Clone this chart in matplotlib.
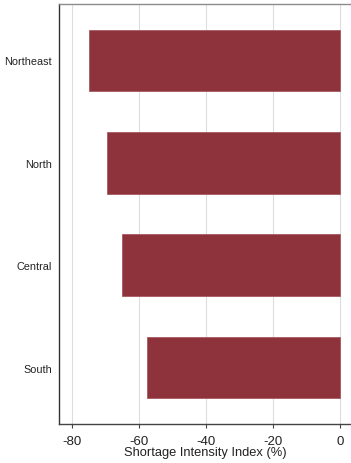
import matplotlib
matplotlib.use("Agg")
import matplotlib.pyplot as plt
from matplotlib import rcParams

rcParams.update({
    "font.family": ["Liberation Sans", "DejaVu Sans"],
    "axes.linewidth": 1,
})

regions = ["Northeast", "North", "Central", "South"]
shortage_index = [-75.0, -69.7, -65.0, -57.7]
x_ticks = [-80, -60, -40, -20, 0]

bar_color = "#8E333C"

fig = plt.figure(figsize=(3.51, 4.64), dpi=100)
ax = fig.add_axes([59 / 351, 39 / 464, 1 - 59 / 351, 420 / 464])

pos = list(range(len(regions)))
ax.barh(pos, shortage_index, height=0.6, color=bar_color,
        edgecolor="#A65A61", linewidth=0.6, zorder=3)

ax.set_ylim(len(regions) - 0.45, -0.55)
ax.set_xlim(-83.9, 3.3)

ax.set_yticks(pos)
ax.set_yticklabels(regions, fontsize=7.8)
ax.tick_params(axis="y", length=0, pad=5, colors="#222222")

ax.set_xticks(x_ticks)
ax.set_xticklabels([str(t) for t in x_ticks], fontsize=9.5)
ax.tick_params(axis="x", length=3, width=0.8, color="#444444",
               labelcolor="#222222", pad=5)
ax.xaxis.grid(True, color="#dddddd", linewidth=0.8, zorder=0)
ax.set_axisbelow(True)

ax.set_xlabel("Shortage Intensity Index (%)", fontsize=9.3, labelpad=-1,
              color="#222222")

ax.spines["right"].set_visible(False)
ax.spines["top"].set_color("#8c8c8c")
ax.spines["left"].set_color("#333333")
ax.spines["bottom"].set_color("#444444")

fig.savefig("out.png", dpi=100)
